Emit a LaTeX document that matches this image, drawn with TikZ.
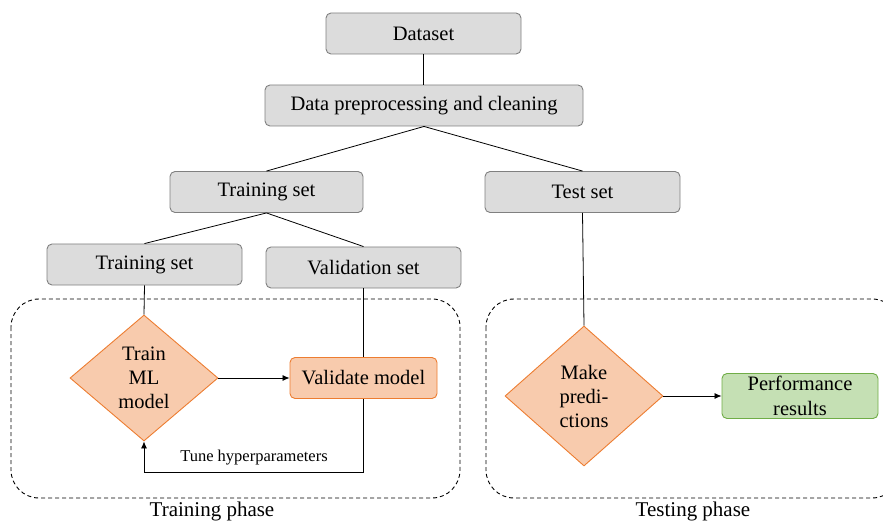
\documentclass[tikz,border=0pt]{standalone}
\usepackage{fontspec}
\setmainfont{Liberation Serif}
\usetikzlibrary{shapes.geometric,arrows.meta}

\definecolor{boxgray}{HTML}{DCDCDC}
\definecolor{edgegray}{HTML}{808080}
\definecolor{orfill}{HTML}{F8CBAD}
\definecolor{oredge}{HTML}{ED7D31}
\definecolor{grfill}{HTML}{C5E0B4}
\definecolor{gredge}{HTML}{70AD47}

\newcommand{\mainsize}{\fontsize{20.5}{24}\selectfont}

\tikzset{
  graybox/.style={draw=edgegray, fill=boxgray, rounded corners=5pt, line width=0.9pt,
    minimum width=195pt, minimum height=41pt, inner sep=0pt, font=\mainsize},
  orbox/.style={draw=oredge, fill=orfill, rounded corners=5pt, line width=0.9pt,
    minimum width=147pt, minimum height=41pt, inner sep=0pt, font=\mainsize},
  grbox/.style={draw=gredge, fill=grfill, rounded corners=5pt, line width=0.9pt,
    minimum width=156pt, minimum height=45pt, inner sep=0pt, align=center,
    font=\fontsize{20.5}{25}\selectfont},
  decision/.style={diamond, draw=oredge, fill=orfill, line width=0.9pt, inner sep=0pt,
    align=center, font=\mainsize},
  link/.style={draw=black, line width=0.8pt},
  arrowlink/.style={link, -{Latex[length=7pt,width=6pt]}},
  phase/.style={draw=black, dashed, dash pattern=on 4pt off 3pt, line width=0.9pt,
    rounded corners=28pt},
  caption/.style={font=\fontsize{21}{24}\selectfont, inner sep=0pt}
}

\begin{document}
\begin{tikzpicture}[x=1pt,y=-1pt]
  \useasboundingbox (0,0) rectangle (883,521);
  \clip (0,0) rectangle (883,521);

  % phase regions
  \draw[phase] (11,299) rectangle (460,498);
  \draw[phase] (486,299) rectangle (900,498);

  % data preparation
  \node[graybox] (data) at (423.5,33.5) {Dataset};
  \node[graybox, minimum width=318pt] (prep) at (424,105.5) {Data preprocessing and cleaning};
  \node[graybox, minimum width=193pt] (train) at (266.5,192) {Training set};
  \node[graybox] (test) at (582.5,192) {Test set};
  \node[graybox] (subtrain) at (144.5,264.5) {Training set};
  \node[graybox] (valid) at (363.5,267.5) {Validation set};

  % training phase
  \node[decision, minimum width=148pt, minimum height=126pt] (fit) at (144,378) {Train\\ML\\model};
  \node[orbox] (check) at (363.5,378) {Validate model};

  % testing phase
  \node[decision, minimum width=158pt, minimum height=140pt] (predict) at (584,396) {Make\\predi-\\ctions};
  \node[grbox] (perf) at (800,396) {Performance\\results};

  % captions
  \node[caption] (trcap) at (212,511) {Training phase};
  \node[caption] (tecap) at (693,511) {Testing phase};

  % connectors
  \draw[link] (data.south) -- (data.south |- prep.north);
  \draw[link] (prep.south) -- (train.north);
  \draw[link] (prep.south) -- (test.north);
  \draw[link] (train.south) -- (subtrain.north);
  \draw[link] (train.south) -- (valid.north);
  \draw[link] (subtrain.south) -- (fit.north);
  \draw[link] (valid.south) -- (check.north);
  \draw[link] (test.south) -- (predict.north);
  \draw[arrowlink] (fit.east) -- (check.west);
  \draw[arrowlink] (predict.east) -- (perf.west);

  % feedback loop
  \coordinate (loop) at (363.5,472);
  \draw[arrowlink] (check.south) -- (loop) -| (fit.south);
  \node[font=\fontsize{16.5}{18}\selectfont, inner sep=0pt] (tune) at (254,458) {Tune hyperparameters};
\end{tikzpicture}
\end{document}
